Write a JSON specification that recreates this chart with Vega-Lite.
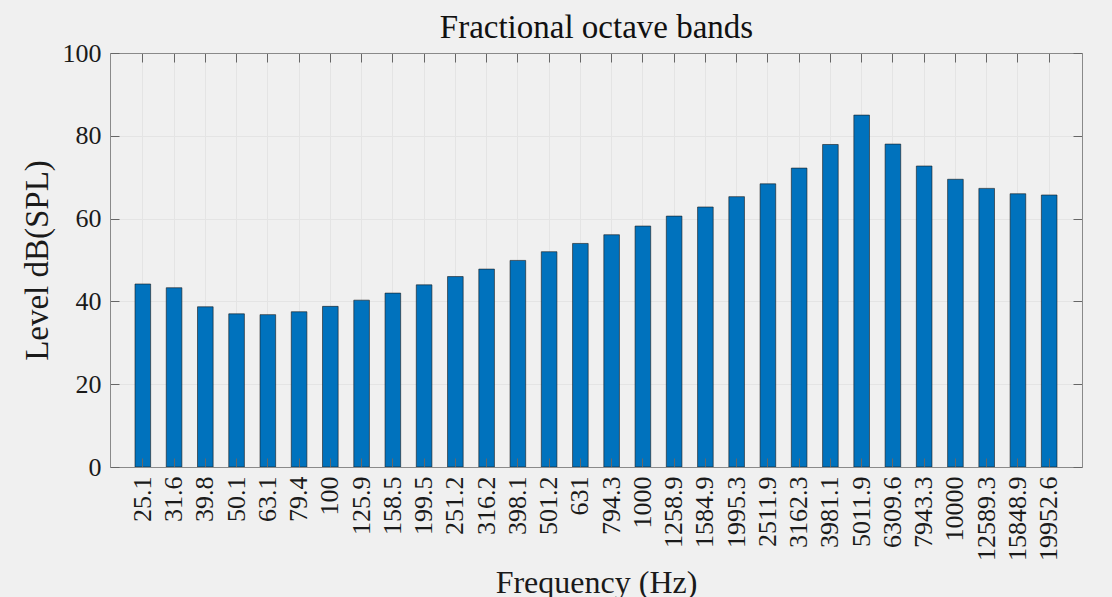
{
  "$schema": "https://vega.github.io/schema/vega-lite/v6.json",
  "width": 972,
  "height": 414,
  "autosize": {"type": "none"},
  "padding": {"left": 110, "top": 53, "right": 30, "bottom": 130},
  "background": "#f0f0f0",
  "data": {
    "values": [
      {"f": "25.1", "level": 44.2},
      {"f": "31.6", "level": 43.3},
      {"f": "39.8", "level": 38.7},
      {"f": "50.1", "level": 37.0},
      {"f": "63.1", "level": 36.8},
      {"f": "79.4", "level": 37.5},
      {"f": "100", "level": 38.8},
      {"f": "125.9", "level": 40.3},
      {"f": "158.5", "level": 42.0},
      {"f": "199.5", "level": 44.0},
      {"f": "251.2", "level": 46.0},
      {"f": "316.2", "level": 47.8},
      {"f": "398.1", "level": 49.9},
      {"f": "501.2", "level": 52.0},
      {"f": "631", "level": 54.0},
      {"f": "794.3", "level": 56.1},
      {"f": "1000", "level": 58.2},
      {"f": "1258.9", "level": 60.6},
      {"f": "1584.9", "level": 62.8},
      {"f": "1995.3", "level": 65.3},
      {"f": "2511.9", "level": 68.4},
      {"f": "3162.3", "level": 72.2},
      {"f": "3981.1", "level": 77.9},
      {"f": "5011.9", "level": 85.0},
      {"f": "6309.6", "level": 78.0},
      {"f": "7943.3", "level": 72.7},
      {"f": "10000", "level": 69.5},
      {"f": "12589.3", "level": 67.3},
      {"f": "15848.9", "level": 66.0},
      {"f": "19952.6", "level": 65.7}
    ]
  },
  "resolve": {"axis": {"x": "independent", "y": "independent"}},
  "layer": [
    {
      "mark": {"type": "bar", "fill": "#0072BD", "stroke": "#1a1a1a", "strokeWidth": 0.6},
      "encoding": {
        "x": {
          "field": "f", "type": "nominal", "sort": null,
          "scale": {"paddingInner": 0.5, "paddingOuter": 0.8},
          "axis": {"orient": "bottom", "grid": true, "gridColor": "#e4e4e4", "gridWidth": 1, "labels": false, "ticks": false, "domain": false, "title": null, "bandPosition": 0.5, "zindex": 0}
        },
        "y": {
          "field": "level", "type": "quantitative",
          "scale": {"domain": [0, 100], "nice": false, "zero": true},
          "axis": {"orient": "left", "values": [0, 20, 40, 60, 80, 100], "grid": true, "gridColor": "#e4e4e4", "gridWidth": 1, "labels": false, "ticks": false, "domain": false, "title": null, "zindex": 0}
        }
      }
    },
    {
      "mark": {"type": "bar", "opacity": 0},
      "encoding": {
        "x": {
          "field": "f", "type": "nominal", "sort": null,
          "axis": {
            "orient": "bottom", "grid": false, "bandPosition": 0.5, "zindex": 1,
            "labelAngle": -90, "labelFont": "Liberation Serif", "labelFontSize": 26, "labelColor": "#1a1a1a", "labelPadding": 18,
            "tickSize": -9, "tickColor": "#666666", "tickWidth": 1,
            "domain": true, "domainColor": "#8a8a8a", "domainWidth": 1,
            "title": "Frequency (Hz)", "titleFont": "Liberation Serif", "titleFontSize": 32, "titleFontWeight": "normal", "titleColor": "#1a1a1a", "titlePadding": 7
          }
        },
        "y": {
          "field": "level", "type": "quantitative",
          "axis": {
            "orient": "left", "values": [0, 20, 40, 60, 80, 100], "grid": false, "zindex": 1,
            "labelFont": "Liberation Serif", "labelFontSize": 26, "labelColor": "#1a1a1a", "labelPadding": 18,
            "tickSize": -9, "tickColor": "#666666", "tickWidth": 1,
            "domain": true, "domainColor": "#8a8a8a", "domainWidth": 1,
            "title": "Level dB(SPL)", "titleFont": "Liberation Serif", "titleFontSize": 33, "titleFontWeight": "normal", "titleColor": "#1a1a1a", "titlePadding": 8
          }
        }
      }
    },
    {
      "mark": {"type": "bar", "opacity": 0},
      "encoding": {
        "x": {
          "field": "f", "type": "nominal", "sort": null,
          "axis": {"orient": "top", "grid": false, "bandPosition": 0.5, "zindex": 1, "labels": false,
            "title": "Fractional octave bands", "titleFont": "Liberation Serif", "titleFontSize": 33, "titleFontWeight": "normal", "titleColor": "#111111", "titleBaseline": "alphabetic", "titlePadding": 15,
            "tickSize": -9, "tickColor": "#666666", "tickWidth": 1,
            "domain": true, "domainColor": "#8a8a8a", "domainWidth": 1}
        },
        "y": {
          "field": "level", "type": "quantitative",
          "axis": {"orient": "right", "values": [0, 20, 40, 60, 80, 100], "grid": false, "zindex": 1, "labels": false, "title": null,
            "tickSize": -9, "tickColor": "#666666", "tickWidth": 1,
            "domain": true, "domainColor": "#8a8a8a", "domainWidth": 1}
        }
      }
    }
  ]
}
